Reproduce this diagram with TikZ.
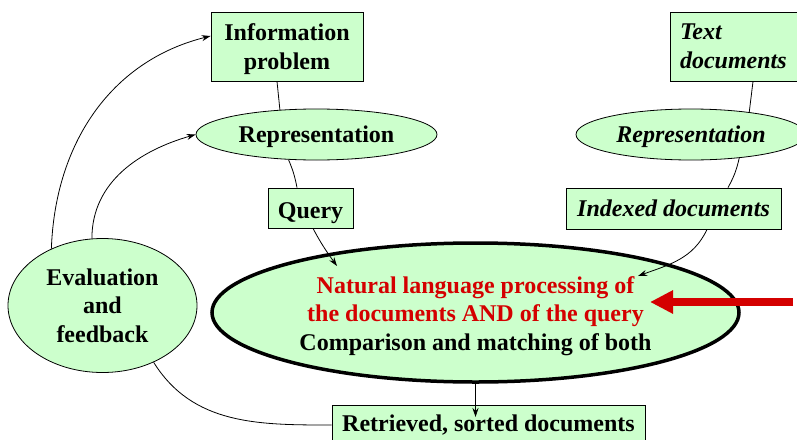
\documentclass[tikz,border=0pt]{standalone}
\usepackage{fontspec}
\setmainfont{Liberation Serif}
\usetikzlibrary{shapes.geometric,arrows.meta,calc}
\definecolor{lgreen}{RGB}{204,255,204}
\definecolor{hired}{RGB}{212,0,0}
% invisible strut that makes the first text line taller, pushing the block down
\newcommand\firstlift[1]{\rule{0pt}{#1}}
\tikzset{
  lbl/.style={font=\bfseries\fontsize{24}{28.5}\selectfont},
  box/.style={lbl, draw, fill=lgreen, line width=0.8pt, inner sep=0pt, align=center},
  oval/.style={box, ellipse},
  slant/.style={font=\bfseries\itshape\fontsize{24}{28.5}\selectfont},
  link/.style={line width=0.8pt},
  flow/.style={link, -{Stealth[length=9pt,width=6pt,inset=3pt]}},
  bigarrow/.style={draw=hired, line width=8.5pt, -{Triangle[length=23pt,width=22pt]}},
}
\begin{document}
\begin{tikzpicture}[x=1pt,y=1pt]
\useasboundingbox (0,0) rectangle (797,-439);

% user side
\node[box, minimum width=152, minimum height=69] (info) at (287,-46.5) {\firstlift{22.4pt}Information\\problem};
\node[oval, minimum width=241, minimum height=51] (lrep) at (316.5,-134.5) {\firstlift{21.8pt}Representation};
\node[box, minimum width=85, minimum height=40] (query) at (310.5,-208) {\firstlift{25.4pt}Query};

% document side
\node[box, slant, text width=120, align=left, inner xsep=10, minimum height=69] (tdoc) at (740,-46.5) {Text\\documents};
\node[oval, slant, minimum width=230, minimum height=51] (rrep) at (691,-134.5) {\firstlift{21.8pt}Representation};
\node[box, slant, minimum width=215, minimum height=41] (idx) at (673.5,-208.5) {Indexed documents};

% matching core
\node[oval, line width=3.5pt, minimum width=527, minimum height=139] (nlp) at (475.5,-312.5)
  {\firstlift{23.4pt}\textcolor{hired}{Natural language processing of}\\
   \textcolor{hired}{the documents AND of the query}\\
   Comparison and matching of both};

\node[oval, minimum width=189, minimum height=134] (eval) at (102.5,-305.5) {Evaluation\\and\\feedback};
\node[box, minimum width=313, minimum height=40] (retr) at (488.5,-425) {Retrieved, sorted documents};

% connectors
\draw[link] ([xshift=-10]info.south) -- (lrep.146);
\draw[link] (lrep.222) to[bend left=6] ([xshift=-13.5]query.north);
\coordinate (qtip) at ($(nlp.center)+(-138.5,46.5)$);
\draw[flow] ([xshift=2.5]query.south) to[out=-62,in=126] (qtip);

\draw[link] ([xshift=13]tdoc.south) -- (rrep.21);
\draw[link] (rrep.-26) to[bend left=8] ([xshift=54.5]idx.north);
\coordinate (itip) at ($(nlp.center)+(162.5,36.5)$);
\draw[flow] ([xshift=33.5]idx.south) to[out=-115,in=20] (itip);

\coordinate (rtip) at (475.5,-417);
\draw[flow] (nlp.south) -- (rtip);

\draw[link] (eval.-48) to[out=-58,in=180] (retr.west);
\draw[flow] (eval.132) to[out=88,in=194] ([yshift=10.5]info.west);
\draw[flow] (eval.99) to[out=90,in=196] (lrep.west);

\coordinate (rtail) at (793,-302);
\coordinate (rhead) at (650,-302);
\draw[bigarrow] (rtail) -- (rhead);
\end{tikzpicture}
\end{document}
